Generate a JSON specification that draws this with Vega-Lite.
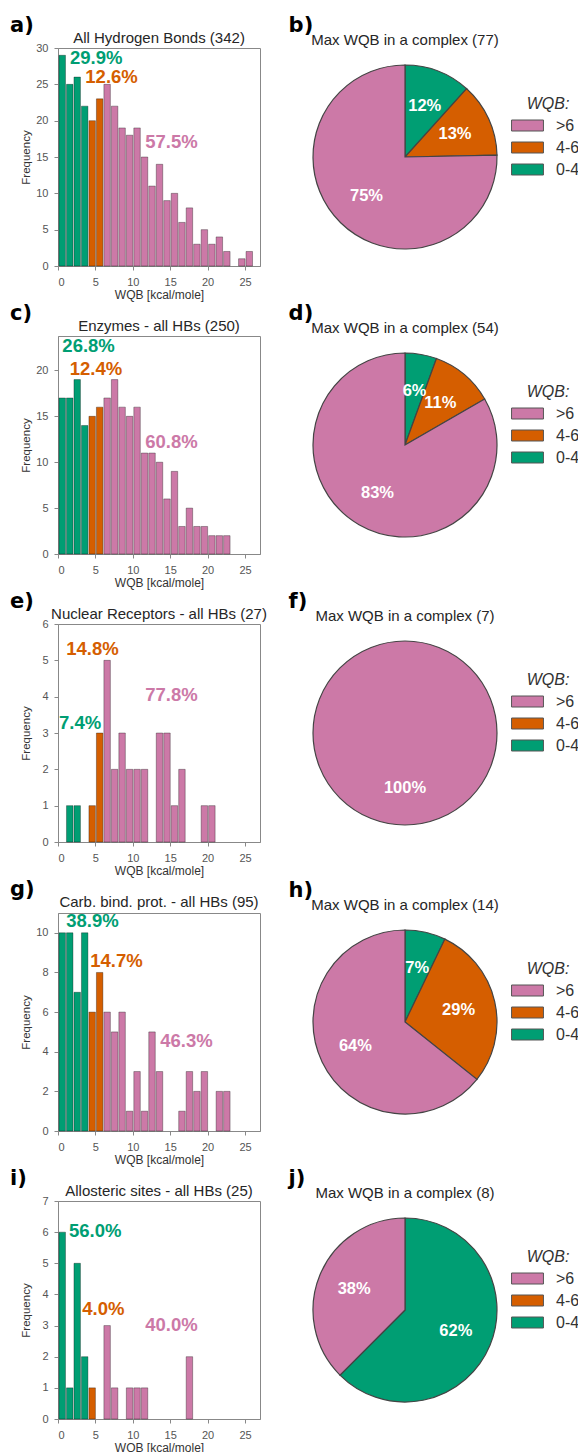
{
"$schema":"https://vega.github.io/schema/vega-lite/v6.json",
"background":"white",
"padding":{"left":10,"top":14,"right":0,"bottom":0},
"columns":2,
"spacing":{"row":1,"column":20},
"resolve":{"scale":{"color":"independent"},"legend":{"color":"independent"}},
"datasets":{
"hA":[{"lo":0,"hi":1,"n":29,"cat":"0-4"},{"lo":1,"hi":2,"n":25,"cat":"0-4"},{"lo":2,"hi":3,"n":26,"cat":"0-4"},{"lo":3,"hi":4,"n":22,"cat":"0-4"},{"lo":4,"hi":5,"n":20,"cat":"4-6"},{"lo":5,"hi":6,"n":23,"cat":"4-6"},{"lo":6,"hi":7,"n":25,"cat":">6"},{"lo":7,"hi":8,"n":22,"cat":">6"},{"lo":8,"hi":9,"n":19,"cat":">6"},{"lo":9,"hi":10,"n":18,"cat":">6"},{"lo":10,"hi":11,"n":19,"cat":">6"},{"lo":11,"hi":12,"n":15,"cat":">6"},{"lo":12,"hi":13,"n":11,"cat":">6"},{"lo":13,"hi":14,"n":14,"cat":">6"},{"lo":14,"hi":15,"n":9,"cat":">6"},{"lo":15,"hi":16,"n":10,"cat":">6"},{"lo":16,"hi":17,"n":6,"cat":">6"},{"lo":17,"hi":18,"n":8,"cat":">6"},{"lo":18,"hi":19,"n":3,"cat":">6"},{"lo":19,"hi":20,"n":5,"cat":">6"},{"lo":20,"hi":21,"n":3,"cat":">6"},{"lo":21,"hi":22,"n":4,"cat":">6"},{"lo":22,"hi":23,"n":2,"cat":">6"},{"lo":24,"hi":25,"n":1,"cat":">6"},{"lo":25,"hi":26,"n":2,"cat":">6"}],
"hC":[{"lo":0,"hi":1,"n":17,"cat":"0-4"},{"lo":1,"hi":2,"n":17,"cat":"0-4"},{"lo":2,"hi":3,"n":19,"cat":"0-4"},{"lo":3,"hi":4,"n":14,"cat":"0-4"},{"lo":4,"hi":5,"n":15,"cat":"4-6"},{"lo":5,"hi":6,"n":16,"cat":"4-6"},{"lo":6,"hi":7,"n":17,"cat":">6"},{"lo":7,"hi":8,"n":19,"cat":">6"},{"lo":8,"hi":9,"n":16,"cat":">6"},{"lo":9,"hi":10,"n":15,"cat":">6"},{"lo":10,"hi":11,"n":16,"cat":">6"},{"lo":11,"hi":12,"n":11,"cat":">6"},{"lo":12,"hi":13,"n":11,"cat":">6"},{"lo":13,"hi":14,"n":10,"cat":">6"},{"lo":14,"hi":15,"n":6,"cat":">6"},{"lo":15,"hi":16,"n":9,"cat":">6"},{"lo":16,"hi":17,"n":3,"cat":">6"},{"lo":17,"hi":18,"n":5,"cat":">6"},{"lo":18,"hi":19,"n":3,"cat":">6"},{"lo":19,"hi":20,"n":3,"cat":">6"},{"lo":20,"hi":21,"n":2,"cat":">6"},{"lo":21,"hi":22,"n":2,"cat":">6"},{"lo":22,"hi":23,"n":2,"cat":">6"}],
"hE":[{"lo":1,"hi":2,"n":1,"cat":"0-4"},{"lo":2,"hi":3,"n":1,"cat":"0-4"},{"lo":4,"hi":5,"n":1,"cat":"4-6"},{"lo":5,"hi":6,"n":3,"cat":"4-6"},{"lo":6,"hi":7,"n":5,"cat":">6"},{"lo":7,"hi":8,"n":2,"cat":">6"},{"lo":8,"hi":9,"n":3,"cat":">6"},{"lo":9,"hi":10,"n":2,"cat":">6"},{"lo":10,"hi":11,"n":2,"cat":">6"},{"lo":11,"hi":12,"n":2,"cat":">6"},{"lo":13,"hi":14,"n":3,"cat":">6"},{"lo":14,"hi":15,"n":3,"cat":">6"},{"lo":15,"hi":16,"n":1,"cat":">6"},{"lo":16,"hi":17,"n":2,"cat":">6"},{"lo":19,"hi":20,"n":1,"cat":">6"},{"lo":20,"hi":21,"n":1,"cat":">6"}],
"hG":[{"lo":0,"hi":1,"n":10,"cat":"0-4"},{"lo":1,"hi":2,"n":10,"cat":"0-4"},{"lo":2,"hi":3,"n":7,"cat":"0-4"},{"lo":3,"hi":4,"n":10,"cat":"0-4"},{"lo":4,"hi":5,"n":6,"cat":"4-6"},{"lo":5,"hi":6,"n":8,"cat":"4-6"},{"lo":6,"hi":7,"n":6,"cat":">6"},{"lo":7,"hi":8,"n":5,"cat":">6"},{"lo":8,"hi":9,"n":6,"cat":">6"},{"lo":9,"hi":10,"n":1,"cat":">6"},{"lo":10,"hi":11,"n":3,"cat":">6"},{"lo":11,"hi":12,"n":1,"cat":">6"},{"lo":12,"hi":13,"n":5,"cat":">6"},{"lo":13,"hi":14,"n":3,"cat":">6"},{"lo":16,"hi":17,"n":1,"cat":">6"},{"lo":17,"hi":18,"n":3,"cat":">6"},{"lo":18,"hi":19,"n":2,"cat":">6"},{"lo":19,"hi":20,"n":3,"cat":">6"},{"lo":21,"hi":22,"n":2,"cat":">6"},{"lo":22,"hi":23,"n":2,"cat":">6"}],
"hI":[{"lo":0,"hi":1,"n":6,"cat":"0-4"},{"lo":1,"hi":2,"n":1,"cat":"0-4"},{"lo":2,"hi":3,"n":5,"cat":"0-4"},{"lo":3,"hi":4,"n":2,"cat":"0-4"},{"lo":4,"hi":5,"n":1,"cat":"4-6"},{"lo":6,"hi":7,"n":3,"cat":">6"},{"lo":7,"hi":8,"n":1,"cat":">6"},{"lo":9,"hi":10,"n":1,"cat":">6"},{"lo":10,"hi":11,"n":1,"cat":">6"},{"lo":11,"hi":12,"n":1,"cat":">6"},{"lo":17,"hi":18,"n":2,"cat":">6"}],
"tA":[{"label":"29.9%","cat":"0-4","x":1.6,"y":27.8},{"label":"12.6%","cat":"4-6","x":3.65,"y":25.2},{"label":"57.5%","cat":">6","x":11.66,"y":16.2}],
"tC":[{"label":"26.8%","cat":"0-4","x":0.58,"y":22.0},{"label":"12.4%","cat":"4-6","x":1.56,"y":19.5},{"label":"60.8%","cat":">6","x":11.66,"y":11.5}],
"tE":[{"label":"7.4%","cat":"0-4","x":0.13,"y":3.1},{"label":"14.8%","cat":"4-6","x":1.1,"y":5.15},{"label":"77.8%","cat":">6","x":11.66,"y":3.88}],
"tG":[{"label":"38.9%","cat":"0-4","x":1.1,"y":10.28},{"label":"14.7%","cat":"4-6","x":4.3,"y":8.26},{"label":"46.3%","cat":">6","x":13.66,"y":4.26}],
"tI":[{"label":"56.0%","cat":"0-4","x":1.47,"y":5.85},{"label":"4.0%","cat":"4-6","x":3.25,"y":3.34},{"label":"40.0%","cat":">6","x":11.66,"y":2.83}],
"pB":[{"cat":"0-4","n":9,"label":"12%"},{"cat":"4-6","n":10,"label":"13%"},{"cat":">6","n":58,"label":"75%"}],
"pD":[{"cat":"0-4","n":3,"label":"6%"},{"cat":"4-6","n":6,"label":"11%"},{"cat":">6","n":45,"label":"83%"}],
"pF":[{"cat":"0-4","n":0,"label":"0%"},{"cat":"4-6","n":0,"label":"0%"},{"cat":">6","n":7,"label":"100%"}],
"pH":[{"cat":"0-4","n":1,"label":"7%"},{"cat":"4-6","n":4,"label":"29%"},{"cat":">6","n":9,"label":"64%"}],
"pJ":[{"cat":"0-4","n":5,"label":"62%"},{"cat":"4-6","n":0,"label":"0%"},{"cat":">6","n":3,"label":"38%"}]
},
"concat":[
{"title":{"text":"a)","anchor":"start","font":"DejaVu Sans","fontSize":21,"fontWeight":"bold","color":"#000","dx":-10,"dy":5,"offset":0},
 "resolve":{"scale":{"color":"independent"},"legend":{"color":"independent"}},
 "vconcat":[{"width":202,"height":218,"view":{"stroke":"#888"},"title":{"text":"All Hydrogen Bonds (342)","dy":7},
  "layer":[
   {"data":{"name":"hA"},"mark":{"type":"bar","stroke":"#000","strokeOpacity":0.4,"strokeWidth":0.8},
    "encoding":{"x":{"field":"lo","type":"quantitative","bin":"binned","scale":{"domain":[0,27],"nice":false,"zero":false},"axis":{"values":[0,5,10,15,20,25],"title":"WQB [kcal/mole]"}},
     "x2":{"field":"hi"},
     "y":{"field":"n","type":"quantitative","scale":{"domain":[0,30],"nice":false},"axis":{"values":[0,5,10,15,20,25,30],"title":"Frequency"}},
     "color":{"field":"cat","type":"nominal","scale":{"domain":[">6","4-6","0-4"],"range":["#CC79A7","#D55E00","#009E73"]},"legend":null}}},
   {"data":{"name":"tA"},"mark":{"type":"text","align":"left","baseline":"alphabetic","fontWeight":"bold","fontSize":18.5},
    "encoding":{"x":{"field":"x","type":"quantitative","axis":{"values":[0,5,10,15,20,25],"title":"WQB [kcal/mole]"}},"y":{"field":"y","type":"quantitative","axis":{"values":[0,5,10,15,20,25,30],"title":"Frequency"}},"text":{"field":"label"},"color":{"field":"cat","type":"nominal","legend":null}}}
  ]}]},
{"title":{"text":"b)","anchor":"start","font":"DejaVu Sans","fontSize":21,"fontWeight":"bold","color":"#000","dx":-22,"dy":3,"offset":0},
 "resolve":{"scale":{"color":"independent"},"legend":{"color":"independent"}},
 "vconcat":[{"width":184,"height":218,"title":{"text":"Max WQB in a complex (77)","dy":3},"data":{"name":"pB"},
  "encoding":{"theta":{"field":"n","type":"quantitative","stack":true},"order":{"field":"cat","type":"ordinal","sort":"ascending"},
   "color":{"field":"cat","type":"nominal","scale":{"domain":[">6","4-6","0-4"],"range":["#CC79A7","#D55E00","#009E73"]},"legend":{"title":"WQB:","orient":"none","legendX":203,"legendY":48}}},
  "layer":[
   {"mark":{"type":"arc","outerRadius":92,"stroke":"#444","strokeWidth":1.2}},
   {"transform":[{"filter":"datum.n > 0"}],"mark":{"type":"text","radius":55,"fontWeight":"bold","fontSize":16.5},"encoding":{"text":{"field":"label"},"color":{"value":"#ffffff"}}}
  ]}]},
{"title":{"text":"c)","anchor":"start","font":"DejaVu Sans","fontSize":21,"fontWeight":"bold","color":"#000","dx":-10,"dy":5,"offset":0},
 "resolve":{"scale":{"color":"independent"},"legend":{"color":"independent"}},
 "vconcat":[{"width":202,"height":218,"view":{"stroke":"#888"},"title":{"text":"Enzymes - all HBs (250)","dy":1},
  "layer":[
   {"data":{"name":"hC"},"mark":{"type":"bar","stroke":"#000","strokeOpacity":0.4,"strokeWidth":0.8},
    "encoding":{"x":{"field":"lo","type":"quantitative","bin":"binned","scale":{"domain":[0,27],"nice":false,"zero":false},"axis":{"values":[0,5,10,15,20,25],"title":"WQB [kcal/mole]"}},
     "x2":{"field":"hi"},
     "y":{"field":"n","type":"quantitative","scale":{"domain":[0,23.75],"nice":false},"axis":{"values":[0,5,10,15,20],"title":"Frequency"}},
     "color":{"field":"cat","type":"nominal","scale":{"domain":[">6","4-6","0-4"],"range":["#CC79A7","#D55E00","#009E73"]},"legend":null}}},
   {"data":{"name":"tC"},"mark":{"type":"text","align":"left","baseline":"alphabetic","fontWeight":"bold","fontSize":18.5},
    "encoding":{"x":{"field":"x","type":"quantitative","axis":{"values":[0,5,10,15,20,25],"title":"WQB [kcal/mole]"}},"y":{"field":"y","type":"quantitative","axis":{"values":[0,5,10,15,20],"title":"Frequency"}},"text":{"field":"label"},"color":{"field":"cat","type":"nominal","legend":null}}}
  ]}]},
{"title":{"text":"d)","anchor":"start","font":"DejaVu Sans","fontSize":21,"fontWeight":"bold","color":"#000","dx":-22,"dy":3,"offset":0},
 "resolve":{"scale":{"color":"independent"},"legend":{"color":"independent"}},
 "vconcat":[{"width":184,"height":218,"title":{"text":"Max WQB in a complex (54)","dy":3},"data":{"name":"pD"},
  "encoding":{"theta":{"field":"n","type":"quantitative","stack":true},"order":{"field":"cat","type":"ordinal","sort":"ascending"},
   "color":{"field":"cat","type":"nominal","scale":{"domain":[">6","4-6","0-4"],"range":["#CC79A7","#D55E00","#009E73"]},"legend":{"title":"WQB:","orient":"none","legendX":203,"legendY":48}}},
  "layer":[
   {"mark":{"type":"arc","outerRadius":92,"stroke":"#444","strokeWidth":1.2}},
   {"transform":[{"filter":"datum.n > 0"}],"mark":{"type":"text","radius":55,"fontWeight":"bold","fontSize":16.5},"encoding":{"text":{"field":"label"},"color":{"value":"#ffffff"}}}
  ]}]},
{"title":{"text":"e)","anchor":"start","font":"DejaVu Sans","fontSize":21,"fontWeight":"bold","color":"#000","dx":-10,"dy":5,"offset":0},
 "resolve":{"scale":{"color":"independent"},"legend":{"color":"independent"}},
 "vconcat":[{"width":202,"height":218,"view":{"stroke":"#888"},"title":{"text":"Nuclear Receptors - all HBs (27)","dy":7},
  "layer":[
   {"data":{"name":"hE"},"mark":{"type":"bar","stroke":"#000","strokeOpacity":0.4,"strokeWidth":0.8},
    "encoding":{"x":{"field":"lo","type":"quantitative","bin":"binned","scale":{"domain":[0,27],"nice":false,"zero":false},"axis":{"values":[0,5,10,15,20,25],"title":"WQB [kcal/mole]"}},
     "x2":{"field":"hi"},
     "y":{"field":"n","type":"quantitative","scale":{"domain":[0,6],"nice":false},"axis":{"values":[0,1,2,3,4,5,6],"title":"Frequency"}},
     "color":{"field":"cat","type":"nominal","scale":{"domain":[">6","4-6","0-4"],"range":["#CC79A7","#D55E00","#009E73"]},"legend":null}}},
   {"data":{"name":"tE"},"mark":{"type":"text","align":"left","baseline":"alphabetic","fontWeight":"bold","fontSize":18.5},
    "encoding":{"x":{"field":"x","type":"quantitative","axis":{"values":[0,5,10,15,20,25],"title":"WQB [kcal/mole]"}},"y":{"field":"y","type":"quantitative","axis":{"values":[0,1,2,3,4,5,6],"title":"Frequency"}},"text":{"field":"label"},"color":{"field":"cat","type":"nominal","legend":null}}}
  ]}]},
{"title":{"text":"f)","anchor":"start","font":"DejaVu Sans","fontSize":21,"fontWeight":"bold","color":"#000","dx":-22,"dy":3,"offset":0},
 "resolve":{"scale":{"color":"independent"},"legend":{"color":"independent"}},
 "vconcat":[{"width":184,"height":218,"title":{"text":"Max WQB in a complex (7)","dy":3},"data":{"name":"pF"},
  "encoding":{"theta":{"field":"n","type":"quantitative","stack":true},"order":{"field":"cat","type":"ordinal","sort":"ascending"},
   "color":{"field":"cat","type":"nominal","scale":{"domain":[">6","4-6","0-4"],"range":["#CC79A7","#D55E00","#009E73"]},"legend":{"title":"WQB:","orient":"none","legendX":203,"legendY":48}}},
  "layer":[
   {"mark":{"type":"arc","outerRadius":92,"stroke":"#444","strokeWidth":1.2}},
   {"transform":[{"filter":"datum.n > 0"}],"mark":{"type":"text","radius":55,"fontWeight":"bold","fontSize":16.5},"encoding":{"text":{"field":"label"},"color":{"value":"#ffffff"}}}
  ]}]},
{"title":{"text":"g)","anchor":"start","font":"DejaVu Sans","fontSize":21,"fontWeight":"bold","color":"#000","dx":-10,"dy":5,"offset":0},
 "resolve":{"scale":{"color":"independent"},"legend":{"color":"independent"}},
 "vconcat":[{"width":202,"height":218,"view":{"stroke":"#888"},"title":{"text":"Carb. bind. prot. - all HBs (95)","dy":1},
  "layer":[
   {"data":{"name":"hG"},"mark":{"type":"bar","stroke":"#000","strokeOpacity":0.4,"strokeWidth":0.8},
    "encoding":{"x":{"field":"lo","type":"quantitative","bin":"binned","scale":{"domain":[0,27],"nice":false,"zero":false},"axis":{"values":[0,5,10,15,20,25],"title":"WQB [kcal/mole]"}},
     "x2":{"field":"hi"},
     "y":{"field":"n","type":"quantitative","scale":{"domain":[0,11],"nice":false},"axis":{"values":[0,2,4,6,8,10],"title":"Frequency"}},
     "color":{"field":"cat","type":"nominal","scale":{"domain":[">6","4-6","0-4"],"range":["#CC79A7","#D55E00","#009E73"]},"legend":null}}},
   {"data":{"name":"tG"},"mark":{"type":"text","align":"left","baseline":"alphabetic","fontWeight":"bold","fontSize":18.5},
    "encoding":{"x":{"field":"x","type":"quantitative","axis":{"values":[0,5,10,15,20,25],"title":"WQB [kcal/mole]"}},"y":{"field":"y","type":"quantitative","axis":{"values":[0,2,4,6,8,10],"title":"Frequency"}},"text":{"field":"label"},"color":{"field":"cat","type":"nominal","legend":null}}}
  ]}]},
{"title":{"text":"h)","anchor":"start","font":"DejaVu Sans","fontSize":21,"fontWeight":"bold","color":"#000","dx":-22,"dy":3,"offset":0},
 "resolve":{"scale":{"color":"independent"},"legend":{"color":"independent"}},
 "vconcat":[{"width":184,"height":218,"title":{"text":"Max WQB in a complex (14)","dy":3},"data":{"name":"pH"},
  "encoding":{"theta":{"field":"n","type":"quantitative","stack":true},"order":{"field":"cat","type":"ordinal","sort":"ascending"},
   "color":{"field":"cat","type":"nominal","scale":{"domain":[">6","4-6","0-4"],"range":["#CC79A7","#D55E00","#009E73"]},"legend":{"title":"WQB:","orient":"none","legendX":203,"legendY":48}}},
  "layer":[
   {"mark":{"type":"arc","outerRadius":92,"stroke":"#444","strokeWidth":1.2}},
   {"transform":[{"filter":"datum.n > 0"}],"mark":{"type":"text","radius":55,"fontWeight":"bold","fontSize":16.5},"encoding":{"text":{"field":"label"},"color":{"value":"#ffffff"}}}
  ]}]},
{"title":{"text":"i)","anchor":"start","font":"DejaVu Sans","fontSize":21,"fontWeight":"bold","color":"#000","dx":-10,"dy":5,"offset":0},
 "resolve":{"scale":{"color":"independent"},"legend":{"color":"independent"}},
 "vconcat":[{"width":202,"height":218,"view":{"stroke":"#888"},"title":{"text":"Allosteric sites - all HBs (25)","dy":7},
  "layer":[
   {"data":{"name":"hI"},"mark":{"type":"bar","stroke":"#000","strokeOpacity":0.4,"strokeWidth":0.8},
    "encoding":{"x":{"field":"lo","type":"quantitative","bin":"binned","scale":{"domain":[0,27],"nice":false,"zero":false},"axis":{"values":[0,5,10,15,20,25],"title":"WQB [kcal/mole]"}},
     "x2":{"field":"hi"},
     "y":{"field":"n","type":"quantitative","scale":{"domain":[0,7],"nice":false},"axis":{"values":[0,1,2,3,4,5,6,7],"title":"Frequency"}},
     "color":{"field":"cat","type":"nominal","scale":{"domain":[">6","4-6","0-4"],"range":["#CC79A7","#D55E00","#009E73"]},"legend":null}}},
   {"data":{"name":"tI"},"mark":{"type":"text","align":"left","baseline":"alphabetic","fontWeight":"bold","fontSize":18.5},
    "encoding":{"x":{"field":"x","type":"quantitative","axis":{"values":[0,5,10,15,20,25],"title":"WQB [kcal/mole]"}},"y":{"field":"y","type":"quantitative","axis":{"values":[0,1,2,3,4,5,6,7],"title":"Frequency"}},"text":{"field":"label"},"color":{"field":"cat","type":"nominal","legend":null}}}
  ]}]},
{"title":{"text":"j)","anchor":"start","font":"DejaVu Sans","fontSize":21,"fontWeight":"bold","color":"#000","dx":-22,"dy":3,"offset":0},
 "resolve":{"scale":{"color":"independent"},"legend":{"color":"independent"}},
 "vconcat":[{"width":184,"height":218,"title":{"text":"Max WQB in a complex (8)","dy":3},"data":{"name":"pJ"},
  "encoding":{"theta":{"field":"n","type":"quantitative","stack":true},"order":{"field":"cat","type":"ordinal","sort":"ascending"},
   "color":{"field":"cat","type":"nominal","scale":{"domain":[">6","4-6","0-4"],"range":["#CC79A7","#D55E00","#009E73"]},"legend":{"title":"WQB:","orient":"none","legendX":203,"legendY":48}}},
  "layer":[
   {"mark":{"type":"arc","outerRadius":92,"stroke":"#444","strokeWidth":1.2}},
   {"transform":[{"filter":"datum.n > 0"}],"mark":{"type":"text","radius":55,"fontWeight":"bold","fontSize":16.5},"encoding":{"text":{"field":"label"},"color":{"value":"#ffffff"}}}
  ]}]}
],
"config":{
 "font":"Liberation Sans",
 "view":{"stroke":null},
 "title":{"font":"Liberation Sans","fontSize":15,"fontWeight":"normal","color":"#262626","offset":3},
 "axis":{"labelFont":"Liberation Sans","labelFontSize":11,"labelColor":"#555","labelOverlap":false,"titleFont":"Liberation Sans","titleFontSize":12,"titleFontWeight":"normal","titleColor":"#333","domainColor":"#888","tickColor":"#888","tickSize":4,"labelPadding":6,"grid":false},
 "axisY":{"minExtent":23,"maxExtent":23,"titlePadding":3.5,"titleFontSize":11.5},
 "axisX":{"titlePadding":2},
 "legend":{"padding":0,"titleFont":"Liberation Sans","titleFontSize":16,"titleFontStyle":"italic","titleFontWeight":"normal","titleColor":"#333","titleAnchor":"middle","titlePadding":2,"labelFont":"Liberation Sans","labelFontSize":16,"labelColor":"#333","labelOffset":17,"symbolType":"M-1.45,-0.5H1.45V0.5H-1.45Z","symbolSize":484,"symbolStrokeColor":"#555","symbolStrokeWidth":1,"symbolOpacity":1,"rowPadding":2}
}
}
